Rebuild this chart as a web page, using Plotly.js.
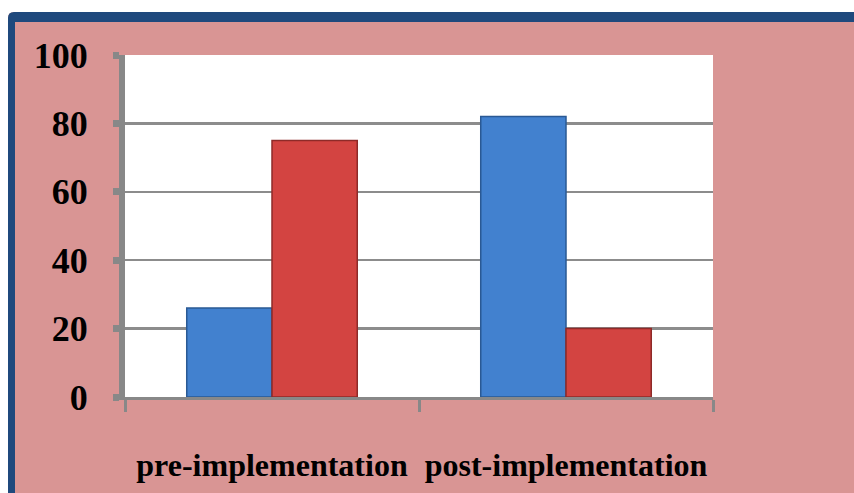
<!DOCTYPE html>
<html>
<head>
<meta charset="utf-8">
<script src="https://cdn.plot.ly/plotly-3.0.1.min.js"></script>
<style>html,body{margin:0;padding:0;background:#fff;}#chart{width:854px;height:493px;}</style>
</head>
<body>
<div id="chart"></div>
<script>
const categories = ["pre-implementation", "post-implementation"];
const seriesBlue = [26, 82];
const seriesRed = [75, 20];
const yTickVals = [0, 20, 40, 60, 80, 100];

const W = 854, H = 493;
const M = {l: 125, r: 141, t: 55, b: 96};
const PW = W - M.l - M.r, PH = H - M.t - M.b;
const px = x => (x - M.l) / PW;
const py = y => (H - M.b - y) / PH;

const serif = "Liberation Serif, Times New Roman, serif";

const traces = [
  {type: "bar", x: categories, y: seriesBlue, name: "A",
   marker: {color: "#4281CF", line: {color: "#2A5994", width: 1.5}}},
  {type: "bar", x: categories, y: seriesRed, name: "B",
   marker: {color: "#D34441", line: {color: "#8E2A28", width: 1.5}}}
];

const r = 6;
const borderPath = [
  "M", px(8), py(12 + r),
  "Q", px(8), py(12), px(8 + r), py(12),
  "L", px(870), py(12),
  "L", px(870), py(22),
  "L", px(15), py(22),
  "L", px(15), py(510),
  "L", px(8), py(510), "Z"
].join(" ");
const whitePath = [
  "M", px(-5), py(-5), "L", px(870), py(-5), "L", px(870), py(12),
  "L", px(8 + r), py(12), "Q", px(8), py(12), px(8), py(12 + r),
  "L", px(8), py(510), "L", px(-5), py(510), "Z"
].join(" ");

const layout = {
  width: W, height: H,
  margin: M,
  paper_bgcolor: "#D99594",
  plot_bgcolor: "#FFFFFF",
  showlegend: false,
  barmode: "group",
  bargap: 0.42,
  bargroupgap: 0,
  font: {family: serif, color: "#000"},
  xaxis: {
    type: "category",
    showgrid: false,
    showline: true, linecolor: "#888888", linewidth: 3,
    ticks: "outside", tickson: "boundaries", ticklen: 12, tickwidth: 3, tickcolor: "#888888",
    tickfont: {family: serif, size: 32, weight: "bold", color: "#000"},
    ticklabelstandoff: 38,
    zeroline: false, fixedrange: true
  },
  yaxis: {
    range: [0, 100],
    tickvals: yTickVals,
    ticktext: yTickVals.map(String),
    showgrid: true, gridcolor: "#8C8C8C", gridwidth: 2.5,
    showline: true, linecolor: "#888888", linewidth: 6,
    ticks: "outside", ticklen: 6, tickwidth: 7, tickcolor: "#888888",
    tickfont: {family: serif, size: 36, weight: "bold", color: "#000"},
    ticklabelstandoff: 18,
    zeroline: false, fixedrange: true
  },
  shapes: [
    {type: "path", xref: "paper", yref: "paper", path: whitePath, fillcolor: "#FFFFFF", line: {width: 0}, layer: "above"},
    {type: "path", xref: "paper", yref: "paper", path: borderPath, fillcolor: "#1F497D", line: {width: 0}, layer: "above"}
  ]
};

Plotly.newPlot("chart", traces, layout, {staticPlot: true, displayModeBar: false});
</script>
</body>
</html>
